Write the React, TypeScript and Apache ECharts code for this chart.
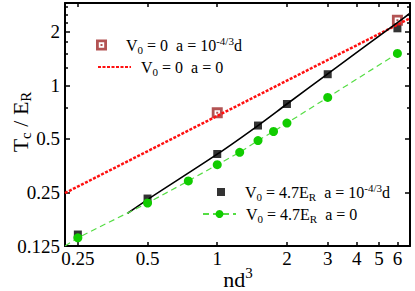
import React, { useEffect, useRef } from 'react';
import * as echarts from 'echarts';

const xTicks = [0.25, 0.5, 1, 2, 3, 4, 5, 6];
const yTicks = [0.125, 0.25, 0.5, 1, 2];
const yMinorTicks = [0.75, 1.25, 1.5, 1.75, 2.25, 2.5, 2.75];
const xRange = [0.22, 6.8];
const yRange = [0.125, 2.9];

const brownX = [1, 6];
const brownY = [0.7, 2.32];

const redX = [0.22, 6.8];
const redY = [0.248, 2.38];

const blackSqX = [0.25, 0.5, 1, 1.5, 2, 3, 6];
const blackSqY = [0.145, 0.231, 0.411, 0.594, 0.785, 1.154, 2.09];

const blackLineX = [0.41, 0.5, 1, 1.5, 2, 3, 6, 6.8];
const blackLineY = [0.191, 0.228, 0.41, 0.594, 0.785, 1.16, 2.25, 2.54];

const greenX = [0.22, 0.25, 0.5, 0.75, 1, 1.25, 1.5, 1.75, 2, 3, 6];
const greenY = [0.125, 0.139, 0.218, 0.29, 0.358, 0.42, 0.489, 0.55, 0.613, 0.855, 1.51];

const FONT = 'Liberation Serif';
const L = (v: number) => Math.log2(v);
const fmt = (v: number) => String(Number(Math.pow(2, v).toPrecision(6)));

const legendRich = {
  t: { fontSize: 16, lineHeight: 18, fontFamily: FONT, color: '#000' },
  sub: { fontSize: 11, lineHeight: 11, padding: [9, 0, 0, 0], fontFamily: FONT, color: '#000' },
  sup: { fontSize: 11, lineHeight: 11, padding: [0, 0, 9, 0], fontFamily: FONT, color: '#000' },
  p: { fontSize: 16, lineHeight: 18, width: 5, fontFamily: FONT },
  q: { fontSize: 16, lineHeight: 18, width: 15, fontFamily: FONT },
};

const legendText: Record<string, string> = {
  A: '{t|V}{sub|0}{t| = 0\u00a0\u00a0a = 10}{sup|-4/3}{t|d}',
  B: '{p| }{t|V}{sub|0}{t| = 0\u00a0\u00a0a = 0}',
  C: '{q| }{t|V}{sub|0}{t| = 4.7E}{sub|R}{t|\u00a0\u00a0a = 10}{sup|-4/3}{t|d}',
  D: '{p| }{t|V}{sub|0}{t| = 4.7E}{sub|R}{t|\u00a0\u00a0a = 0}',
};

const pair = (xs: number[], ys: number[]) => xs.map((x, i) => [L(x), L(ys[i])]);

const squareDot = 'path://M0,0H11V11H0Z M2.8,2.8V8.2H8.2V2.8Z M4.5,4.5H6.5V6.5H4.5Z';

function makeLegend(name: string, left: number, top: number, w: number, h: number, extra: any = {}) {
  return {
    data: [{ name }],
    left,
    top,
    orient: 'vertical',
    padding: 0,
    itemWidth: w,
    itemHeight: h,
    selectedMode: false,
    formatter: (n: string) => legendText[n],
    textStyle: { fontFamily: FONT, fontSize: 16, color: '#000', rich: legendRich },
    ...extra,
  };
}

function xAxisDef(position: string, showLabel: boolean) {
  return {
    type: 'value',
    position,
    min: L(xRange[0]),
    max: L(xRange[1]),
    axisLine: { show: true, onZero: false, lineStyle: { color: '#000', width: 2 } },
    axisTick: { show: true, inside: true, length: 4, customValues: xTicks.map(L), lineStyle: { color: '#000', width: 1.5 } },
    axisLabel: {
      show: showLabel,
      customValues: xTicks.map(L),
      formatter: fmt,
      fontSize: 19,
      fontFamily: FONT,
      color: '#000',
      margin: 3,
    },
    splitLine: { show: false },
  };
}

function yAxisDef(position: string, major: boolean, showLabel: boolean) {
  const vals = major ? yTicks.map(L) : yMinorTicks.map(L);
  return {
    type: 'value',
    position,
    min: L(yRange[0]),
    max: L(yRange[1]),
    axisLine: { show: major, onZero: false, lineStyle: { color: '#000', width: 2 } },
    axisTick: { show: true, inside: true, length: major ? 5 : 3, customValues: vals, lineStyle: { color: '#000', width: 1.5 } },
    axisLabel: {
      show: showLabel,
      customValues: vals,
      formatter: fmt,
      fontSize: 19,
      fontFamily: FONT,
      color: '#000',
      margin: 5,
    },
    splitLine: { show: false },
  };
}

export default function App() {
  const ref = useRef<HTMLDivElement>(null);
  useEffect(() => {
    if (!ref.current) return;
    const chart = echarts.init(ref.current, null, { renderer: 'svg' });
    chart.setOption({
      animation: false,
      backgroundColor: '#fff',
      grid: { left: 65, right: 5, top: 3, bottom: 45, containLabel: false, outerBoundsMode: 'none' },
      xAxis: [xAxisDef('bottom', true), xAxisDef('top', false)],
      yAxis: [
        yAxisDef('left', true, true),
        yAxisDef('left', false, false),
        yAxisDef('right', true, false),
        yAxisDef('right', false, false),
      ],
      legend: [
        makeLegend('A', 96, 35, 39, 11),
        makeLegend('B', 97, 57, 33, 10, { itemStyle: { color: 'rgba(0,0,0,0)', opacity: 0, borderWidth: 0 } }),
        makeLegend('C', 217, 182, 8, 8),
        makeLegend('D', 202, 204, 33, 10),
      ],
      graphic: [
        {
          type: 'text',
          x: 20,
          y: 122,
          rotation: Math.PI / 2,
          style: {
            text: '{i|T}{s|c}{i| / E}{s|R}',
            align: 'center',
            verticalAlign: 'middle',
            rich: {
              i: { fontSize: 22, lineHeight: 24, fontFamily: FONT, fill: '#000', color: '#000' },
              s: { fontSize: 15, lineHeight: 15, padding: [12, 0, 0, 0], fontFamily: FONT, fill: '#000', color: '#000' },
            },
          },
        },
        {
          type: 'text',
          x: 238,
          y: 279,
          style: {
            text: '{i|nd}{s|3}',
            align: 'center',
            verticalAlign: 'middle',
            rich: {
              i: { fontSize: 22, lineHeight: 24, fontFamily: FONT, fill: '#000', color: '#000' },
              s: { fontSize: 15, lineHeight: 15, padding: [0, 0, 12, 0], fontFamily: FONT, fill: '#000', color: '#000' },
            },
          },
        },
      ],
      series: [
        {
          name: 'B',
          type: 'line',
          data: pair(redX, redY),
          symbol: 'none',
          lineStyle: { color: '#ff1010', width: 2.5, type: [3, 1.5] },
          itemStyle: { color: '#ff1010' },
        },
        {
          name: 'blackLine',
          type: 'line',
          data: pair(blackLineX, blackLineY),
          symbol: 'none',
          smooth: 0.3,
          lineStyle: { color: '#000', width: 1.6 },
          itemStyle: { color: '#000' },
        },
        {
          name: 'D',
          type: 'line',
          data: pair(greenX, greenY).map((v, i) => (i === 0 ? { value: v, symbol: 'none' } : v)),
          symbol: 'circle',
          symbolSize: 9,
          lineStyle: { color: '#55dd44', width: 1.2, type: [6, 4] },
          itemStyle: { color: '#11cc00' },
        },
        {
          name: 'C',
          type: 'scatter',
          data: pair(blackSqX, blackSqY),
          symbol: 'rect',
          symbolSize: 8,
          itemStyle: { color: '#000' },
        },
        {
          name: 'A',
          type: 'scatter',
          data: pair(brownX, brownY),
          symbol: squareDot,
          symbolSize: 11,
          itemStyle: { color: '#a02828' },
        },
      ],
    });
    return () => chart.dispose();
  }, []);
  return <div ref={ref} style={{ position: 'fixed', left: 0, top: 0, width: 415, height: 291 }} />;
}
